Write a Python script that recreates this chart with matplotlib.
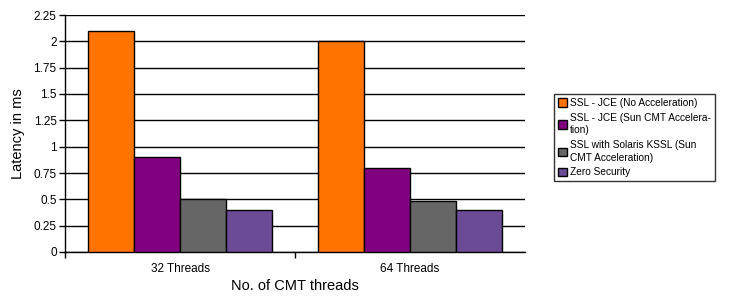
import matplotlib
matplotlib.use("Agg")
import matplotlib.pyplot as plt
import numpy as np

plt.rcParams['font.family'] = ['Liberation Sans', 'DejaVu Sans']

categories = ["32 Threads", "64 Threads"]
series_names = [
    "SSL - JCE (No Acceleration)",
    "SSL - JCE (Sun CMT Accelera-\ntion)",
    "SSL with Solaris KSSL (Sun\nCMT Acceleration)",
    "Zero Security",
]
values = [
    [2.1, 2.0],
    [0.9, 0.8],
    [0.5, 0.48],
    [0.4, 0.4],
]
colors = ["#FF7300", "#800080", "#666666", "#6B4A96"]
yticks = [0, 0.25, 0.5, 0.75, 1, 1.25, 1.5, 1.75, 2, 2.25]
ytick_labels = ["0", "0.25", "0.5", "0.75", "1", "1.25", "1.5", "1.75", "2", "2.25"]

fig = plt.figure(figsize=(7.49, 3.04), dpi=100)
ax = fig.add_axes([65/749, 1-252/304, 460/749, 237/304])

x = np.arange(len(categories)) + 0.5
w = 0.2
for i, (name, vals, c) in enumerate(zip(series_names, values, colors)):
    ax.bar(x + (i - 1.5) * w, vals, width=w, color=c, edgecolor="black",
           linewidth=1, label=name, zorder=3)

ax.set_xlim(0, 2)
ax.set_ylim(0, 2.25)
ax.set_yticks(yticks)
ax.set_yticklabels(ytick_labels, fontsize=8.5)
ax.yaxis.grid(True, color="black", linewidth=1, zorder=0)
ax.set_axisbelow(True)
ax.set_xticks(x)
ax.set_xticklabels(categories, fontsize=8.5)
ax.tick_params(axis='x', which='major', length=0, pad=8)
ax.set_xticks([0, 1], minor=True)
ax.tick_params(axis='x', which='minor', length=4, width=1, direction='out')
ax.tick_params(axis='y', length=4, width=1, direction='out', pad=2)
for s in ["top", "right"]:
    ax.spines[s].set_visible(False)
for s in ["left", "bottom"]:
    ax.spines[s].set_linewidth(1)
    ax.spines[s].set_color("black")

ax.set_ylabel("Latency in ms", fontsize=10.5, labelpad=6)
ax.set_xlabel("No. of CMT threads", fontsize=10.5, labelpad=3)

leg = fig.legend(loc="upper left", bbox_to_anchor=(554/749, 1-94/304),
                 fontsize=7.3, frameon=True, fancybox=False, edgecolor="black",
                 handlelength=0.9, handleheight=0.9, handletextpad=0.3,
                 borderpad=0.4, labelspacing=0.45, borderaxespad=0)
leg.get_frame().set_linewidth(1)
for t in leg.get_texts():
    t.set_linespacing(1.35)

fig.savefig("out.png", dpi=100)
